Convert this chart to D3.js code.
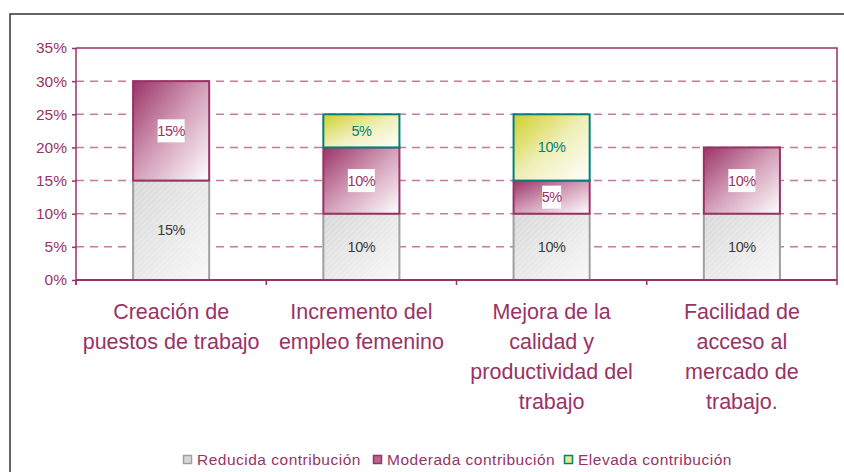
<!DOCTYPE html>
<html><head><meta charset="utf-8">
<script src="https://cdn.jsdelivr.net/npm/d3@7"></script>
<style>html,body{margin:0;padding:0;background:#fff;}svg{display:block;font-family:"Liberation Sans",Arial,sans-serif;}</style>
</head><body>
<svg id="c" width="844" height="472"></svg>
<script>
const categories = [
  ["Creación de","puestos de trabajo"],
  ["Incremento del","empleo femenino"],
  ["Mejora de la","calidad y","productividad del","trabajo"],
  ["Facilidad de","acceso al","mercado de","trabajo."]
];
const seriesNames = ["Reducida contribución","Moderada contribución","Elevada contribución"];
const reducida = [15,10,10,10];
const moderada = [15,10,5,10];
const elevada  = [0,5,10,0];
const yTicks = [0,5,10,15,20,25,30,35];

const svg = d3.select("#c");
const M = "#993366";
const margin = {left:76, right:837, top:48, bottom:280};

// outer frame
svg.append("path").attr("d","M10,472V14H844").attr("fill","none").attr("stroke","#333").attr("stroke-width",1.5);

const defs = svg.append("defs");
function grad(id, c0, cm, c1){
  const g = defs.append("linearGradient").attr("id",id).attr("x1",0).attr("y1",0).attr("x2",1).attr("y2",1);
  g.append("stop").attr("offset",0).attr("stop-color",c0);
  g.append("stop").attr("offset",0.5).attr("stop-color",cm);
  g.append("stop").attr("offset",1).attr("stop-color",c1);
}
grad("g0","#d8d8d8","#e8e8e8","#f8f8f8");
grad("g1","#9b3468","#d4a0b9","#ffffff");
grad("g2","#cfcf2a","#efefb8","#ffffff");
const pat = defs.append("pattern").attr("id","hatch").attr("patternUnits","userSpaceOnUse").attr("width",4).attr("height",4).attr("patternTransform","rotate(45)");
pat.append("line").attr("x1",0).attr("y1",0).attr("x2",0).attr("y2",4).attr("stroke","#ffffff").attr("stroke-width",1).attr("opacity",0.5);

const keys = ["r","m","e"];
const data = categories.map((c,i)=>({i, r:reducida[i], m:moderada[i], e:elevada[i]}));
const stack = d3.stack().keys(keys)(data);

const x = d3.scaleBand().domain(d3.range(categories.length)).range([margin.left, margin.right]).paddingInner(0.6).paddingOuter(0.3);
const y = d3.scaleLinear().domain([0,35]).range([margin.bottom, margin.top]);

// grid
svg.append("g").selectAll("line").data(yTicks.filter(t=>t>0 && t<35)).join("line")
  .attr("x1",margin.left).attr("x2",margin.right)
  .attr("y1",d=>y(d)).attr("y2",d=>y(d))
  .attr("stroke","#c77a9f").attr("stroke-width",1.5).attr("stroke-dasharray","8,6");

// plot frame top/right
svg.append("path").attr("d",`M${margin.left},${margin.top}H${margin.right}V${margin.bottom}`)
  .attr("fill","none").attr("stroke",M).attr("stroke-width",1.5);

const fills = ["url(#g0)","url(#g1)","url(#g2)"];
const strokes = ["#a0a0a0", M, "#00807a"];
stack.forEach((s,k)=>{
  const g = svg.append("g");
  const segs = s.filter(d=>d[1]-d[0]>0);
  g.selectAll("rect.f").data(segs).join("rect")
    .attr("x",d=>x(d.data.i)).attr("width",x.bandwidth())
    .attr("y",d=>y(d[1])).attr("height",d=>y(d[0])-y(d[1]))
    .attr("fill",fills[k]);
  if(k===0){
    g.selectAll("rect.h").data(segs).join("rect")
      .attr("x",d=>x(d.data.i)).attr("width",x.bandwidth())
      .attr("y",d=>y(d[1])).attr("height",d=>y(d[0])-y(d[1]))
      .attr("fill","url(#hatch)");
  }
  g.selectAll("rect.s").data(segs).join("rect")
    .attr("x",d=>x(d.data.i)).attr("width",x.bandwidth())
    .attr("y",d=>y(d[1])).attr("height",d=>y(d[0])-y(d[1]))
    .attr("fill","none").attr("stroke",strokes[k]).attr("stroke-width",2);
});

// labels
const labelColors = ["#3a3a3a", M, "#00807a"];
stack.forEach((s,k)=>{
  s.filter(d=>d[1]-d[0]>0).forEach(d=>{
    const cx = x(d.data.i)+x.bandwidth()/2;
    const cy = (y(d[0])+y(d[1]))/2;
    const v = d[1]-d[0];
    const txt = v+"%";
    if(k===1){
      const w = txt.length===3 ? 27 : 19;
      svg.append("rect").attr("x",cx-w/2).attr("y",cy-11.5).attr("width",w).attr("height",23).attr("fill","#fff");
    }
    svg.append("text").attr("x",cx).attr("y",cy+5).attr("text-anchor","middle")
      .attr("font-size",14.5).attr("letter-spacing",-0.5).attr("fill",labelColors[k]).text(txt);
  });
});

// y axis
const ya = svg.append("g").attr("transform",`translate(${margin.left},0)`)
  .call(d3.axisLeft(y).tickValues(yTicks).tickSize(4).tickPadding(5).tickFormat(d=>d+"%"));
ya.select(".domain").remove();
ya.append("line").attr("x1",0).attr("x2",0).attr("y1",margin.top).attr("y2",margin.bottom+5).attr("stroke",M).attr("stroke-width",1.5);
ya.selectAll(".tick line").attr("stroke",M).attr("stroke-width",1.5);
ya.selectAll(".tick text").attr("fill",M).attr("font-size",15.5).attr("font-family","Liberation Sans, Arial, sans-serif");

// x axis
const step = (margin.right-margin.left)/categories.length;
svg.append("line").attr("x1",margin.left).attr("x2",margin.right).attr("y1",margin.bottom).attr("y2",margin.bottom).attr("stroke",M).attr("stroke-width",2);
svg.append("g").selectAll("line").data(d3.range(categories.length+1)).join("line")
  .attr("x1",i=>margin.left+i*step).attr("x2",i=>margin.left+i*step)
  .attr("y1",margin.bottom).attr("y2",margin.bottom+5).attr("stroke",M).attr("stroke-width",1.5);

categories.forEach((lines,i)=>{
  const t = svg.append("text").attr("text-anchor","middle").attr("fill",M).attr("font-size",21.5);
  lines.forEach((l,j)=>{
    t.append("tspan").attr("x",x(i)+x.bandwidth()/2).attr("y",319+j*30).text(l);
  });
});

// legend
const legX = [183, 373, 564];
const legColors = [["#d8d8d8","#a0a0a0"],["#b8668f",M],["#e8e88a","#00807a"]];
seriesNames.forEach((n,i)=>{
  svg.append("rect").attr("x",legX[i]+0.5).attr("y",455.5).attr("width",8).attr("height",8)
    .attr("fill",legColors[i][0]).attr("stroke",legColors[i][1]).attr("stroke-width",1.5);
  svg.append("text").attr("x",legX[i]+14).attr("y",465).attr("font-size",15.5).attr("letter-spacing",0.5).attr("fill",M).text(n);
});
</script>
</body></html>
